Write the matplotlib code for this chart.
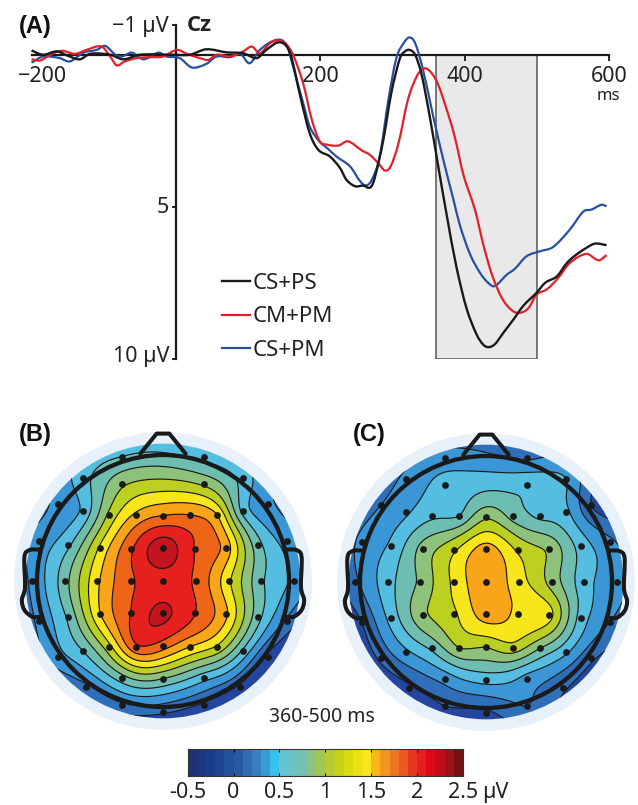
import numpy as np
import matplotlib
matplotlib.use("Agg")
import matplotlib.pyplot as plt
from matplotlib.colors import LinearSegmentedColormap
from matplotlib.patches import Circle, Rectangle, PathPatch
from matplotlib.path import Path
from matplotlib.transforms import ScaledTranslation

plt.rcParams['font.family'] = ['Noto Sans', 'DejaVu Sans']

W, H = 638, 805

# ERP at Cz, ms / uV
black_t = [-200,-184,-165,-149,-133,-119,-91,-73,-50,-4,19,42,70,93,112,125,144,158,172,185,197,213,227,236,248,259,269,275,287,298,310,317,323,331,340,352,363,375,388,402,416,425,432,441,453,467,481,499,511,527,541,552,568,580,596]
black_v = [-.16,-.02,-.13,.02,.13,-.05,-.02,.13,-.02,-.02,-.02,-.2,-.1,-.07,.09,-.18,-.43,-.07,1.35,2.56,3.11,3.33,3.71,4.1,4.31,4.29,4.35,4.04,2.78,1.24,.09,-.13,-.18,-.02,.64,2.12,3.66,5.3,6.95,8.32,9.19,9.52,9.61,9.52,9.14,8.7,8.24,7.82,7.49,7.28,6.84,6.6,6.34,6.2,6.25]
red_t = [-200,-188,-174,-158,-140,-124,-103,-91,-82,-71,-54,-36,-18,1,15,33,45,56,75,93,105,116,130,142,153,162,176,188,199,209,225,238,257,268,280,289,297,308,321,333,340,346,354,363,377,386,398,414,425,437,451,465,476,488,499,513,529,545,568,585,596]
red_v = [.13,.17,-.02,-.15,-.05,-.18,-.29,.04,.33,.2,.09,.06,.04,-.18,-.05,.09,.15,-.02,.04,-.13,-.29,-.07,-.4,-.49,-.35,-.02,.92,2.12,2.83,2.94,2.97,2.83,3.13,3.27,3.55,3.79,3.66,2.89,1.46,.7,.48,.43,.59,.97,1.96,2.7,3.95,5.1,6.2,7.2,7.99,8.4,8.48,8.32,7.88,7.71,7.33,6.84,6.54,6.75,6.58]
blue_t = [-200,-184,-161,-147,-128,-110,-98,-84,-75,-61,-45,-24,-13,5,22,42,56,75,89,102,116,139,153,162,176,185,199,209,222,241,255,263,271,282,294,305,315,323,331,342,356,370,384,393,407,421,432,441,458,469,485,504,522,545,564,575,589,596]
blue_v = [.24,.04,.09,.2,-.09,-.18,-.31,-.02,.04,-.09,.13,-.09,.04,.09,.4,.28,.04,.06,-.05,.26,-.18,-.51,-.35,.37,1.57,2.34,2.85,3.05,3.33,3.66,4.15,4.28,4.1,3.33,1.46,.09,-.4,-.59,-.4,.48,2.01,3.44,4.75,5.6,6.55,7.17,7.49,7.6,7.22,7.03,6.62,6.45,6.31,5.74,5.14,5.08,4.92,4.97]

# electrodes, head radius = 1, row by row from the front
elec_x = [-.325,.325, -.325,.327, -.638,.638, -.836,.836,
          -.638,-.429,-.214,0,.214,.429,.638, -.987,.987,
          -.751,-.497,-.257,0,.257,.497,.751,
          -1.04,-.78,-.521,-.257,0,.26,.521,.78,1.04,
          -.987,.987, -.751,-.497,-.257,0,.257,.497,.751,
          -.638,-.429,-.214,0,.214,.429,.638, -.836,.836,
          -.325,0,.327, -.608,.608, -.325,.325,0]
elec_y = [.987,.987, .77,.77, .815,.815, .608,.608,
          .558,.526,.524,.519,.524,.526,.558, .32,.32,
          .288,.265,.257,.262,.257,.265,.288,
          0,0,0,0,0,0,0,0,0,
          -.315,-.315, -.286,-.259,-.254,-.257,-.254,-.259,-.286,
          -.553,-.526,-.521,-.519,-.521,-.526,-.553, -.606,-.606,
          -.767,-.775,-.767, -.839,-.839, -.984,-.984,-1.037]

vals_b = [.5,.4, .95,.95, .4,.4, .05,.05,
          .3,1.05,1.55,1.75,1.75,1.5,.4, .1,.15,
          .45,1.3,1.95,2.4,1.98,1.65,.6,
          .05,.65,1.45,1.95,2.15,1.95,1.3,.55,.2,
          .05,-.05, .55,1.5,2.0,2.3,2.0,1.55,.6,
          .5,1.15,1.95,1.85,1.5,1.2,.45, .15,-.35,
          .65,.75,.35, -.05,-.3, -.05,-.3,-.2]
vals_c = [.1,-.05, .35,.45, .05,.25, 0,-.25,
          .2,.45,.5,.95,.65,.45,.3, .05,.05,
          .3,.85,1.2,1.6,1.2,.95,.4,
          -.05,.4,.8,1.3,1.65,1.35,.9,.35,.1,
          -.25,0, .35,.95,1.2,1.6,1.45,1.35,.4,
          .2,.55,1.0,1.0,1.15,.75,.3, -.2,-.2,
          .1,.35,.15, -.3,-.2, -.25,0,-.3]

levels = np.arange(-0.5, 2.51, 0.25)
cb_ticks = [-0.5, 0, 0.5, 1, 1.5, 2, 2.5]
cb_labels = ['-0.5', '0', '0.5', '1', '1.5', '2', '2.5']

anchors = [(-.5,'#1f3a90'),(-.375,'#24479f'),(-.125,'#2f6fba'),(.125,'#3b96d6'),(.375,'#55bfe0'),
           (.625,'#6dbdb2'),(.875,'#8ec27c'),(1.125,'#bcd020'),(1.375,'#f8e81c'),(1.625,'#f8a61a'),
           (1.875,'#ee6518'),(2.125,'#e6211f'),(2.375,'#c8141e'),(2.5,'#a01218')]
cmap = LinearSegmentedColormap.from_list('erp', [((v+.5)/3, c) for v, c in anchors])

bar_anchors = [(-.5,'#1d3070'),(-.25,'#1a3c8c'),(0,'#24559f'),(.25,'#3a7cc0'),(.45,'#35c0ef'),(.5,'#5ec4dc'),
               (.75,'#76c2b0'),(.9,'#98c46a'),(1.0,'#a9c83c'),(1.2,'#d3d60a'),(1.45,'#f9e91b'),(1.55,'#f9b41c'),
               (1.8,'#ec6a20'),(2.0,'#e62a20'),(2.15,'#e10a17'),(2.35,'#a01218'),(2.5,'#5e1010')]
bar_cmap = LinearSegmentedColormap.from_list('bar', [((v+.5)/3, c) for v, c in bar_anchors])


def add_ax(l, t, w, h):
    return fig.add_axes([l/W, 1-(t+h)/H, w/W, h/H])


def smooth_path(u, x, y):
    # bezier through the points, tangents from the neighbours
    u, x, y = np.array(u, float), np.array(x, float), np.array(y, float)
    mx = np.gradient(x, u, edge_order=1)
    my = np.gradient(y, u, edge_order=1)
    mx[1:-1] = (x[2:]-x[:-2])/(u[2:]-u[:-2])
    my[1:-1] = (y[2:]-y[:-2])/(u[2:]-u[:-2])
    verts = [(x[0], y[0])]
    codes = [Path.MOVETO]
    for i in range(len(u)-1):
        d = (u[i+1]-u[i])/3
        verts += [(x[i]+mx[i]*d, y[i]+my[i]*d), (x[i+1]-mx[i+1]*d, y[i+1]-my[i+1]*d), (x[i+1], y[i+1])]
        codes += [Path.CURVE4]*3
    return Path(verts, codes)


def curve(ax, t, v, color, lw, label, z):
    ax.add_patch(PathPatch(smooth_path(t, t, v), fc='none', ec=color, lw=lw, zorder=z, clip_on=False))
    ax.plot([], [], color=color, lw=lw, label=label)


def tps(x, y, v, gx, gy):
    # thin plate spline through the electrode values
    x, y, v = np.array(x), np.array(y), np.array(v)
    n = len(x)
    d = np.hypot(x[:,None]-x[None,:], y[:,None]-y[None,:])
    K = d**2*np.log(d+1e-9)
    P = np.column_stack([np.ones(n), x, y])
    A = np.block([[K, P], [P.T, np.zeros((3,3))]])
    coef = np.linalg.solve(A, np.r_[v, 0, 0, 0])
    dg = np.hypot(gx[...,None]-x, gy[...,None]-y)
    z = (dg**2*np.log(dg+1e-9)*coef[:n]).sum(-1)
    return z + coef[n] + coef[n+1]*gx + coef[n+2]*gy


def topo(cx, cy, vals):
    s = 126
    r = 1.25
    ax = add_ax(cx-r*s, cy-r*s, 2*r*s, 2*r*s)
    ax.set_xlim(-r, r)
    ax.set_ylim(-r, r)
    ax.axis('off')
    ax.add_patch(Circle((0,0), 1.182, fc='#e8f0fa', ec='none', zorder=0))
    g = np.linspace(-1.12, 1.12, 300)
    gx, gy = np.meshgrid(g, g)
    z = np.clip(tps(elec_x, elec_y, vals, gx, gy), -.49, 2.49)
    disc = Circle((0,0), 1.09, transform=ax.transData)
    cf = ax.contourf(gx, gy, z, levels=levels, cmap=cmap, vmin=-.5, vmax=2.5, zorder=1)
    cl = ax.contour(gx, gy, z, levels=levels[1:-1], colors='#1a1a1a', linewidths=.85, zorder=2,
                    negative_linestyles='solid')
    cf.set_clip_path(disc)
    cl.set_clip_path(disc)
    # head outline
    ax.add_patch(Circle((0,0), 1.0, fc='none', ec='#1a1a1a', lw=3.1, zorder=3))
    lw = dict(fc='none', ec='#1a1a1a', lw=2.9, joinstyle='round', capstyle='round', zorder=3)
    ax.plot([-.18,-.05,.05,.18], [1.01,1.17,1.17,1.01], color='#1a1a1a', lw=2.9,
            solid_joinstyle='round', solid_capstyle='round', zorder=3)
    ear_x = np.array([.985,1.06,1.10,1.095,1.12,1.10,1.04,.985])
    ear_y = [.25,.245,.19,-.05,-.15,-.23,-.283,-.285]
    for sign in (-1, 1):
        ax.add_patch(PathPatch(smooth_path(range(8), sign*ear_x, ear_y), **lw))
    ax.scatter(elec_x, elec_y, s=24, c='#1a1a1a', linewidths=0, zorder=4)


fig = plt.figure(figsize=(W/100, H/100), dpi=100)

# (A) waveforms
ax = add_ax(31.5, 25, 578, 334)
ax.set_xlim(-200, 600)
ax.set_ylim(10, -1)
ax.patch.set_visible(False)
ax.add_patch(Rectangle((360, 0), 140, 10, fc='#e9e9e9', ec='#555555', lw=1.1, zorder=1))
curve(ax, blue_t, blue_v, '#27509f', 1.6, 'CS+PM', 3)
curve(ax, red_t, red_v, '#e3202a', 1.6, 'CM+PM', 3)
curve(ax, black_t, black_v, '#1a1a1a', 1.7, 'CS+PS', 4)
for s in ('top', 'right'):
    ax.spines[s].set_visible(False)
ax.spines['left'].set_position(('data', 0))
ax.spines['bottom'].set_position(('data', 0))
ax.spines['left'].set_linewidth(1.6)
ax.spines['bottom'].set_linewidth(1.6)
ax.spines['left'].set_color('#1a1a1a')
ax.spines['bottom'].set_color('#1a1a1a')
ax.set_xticks([-200, 200, 400, 600], ['\u2212200', '200', '400', '600'], fontsize=15.5, color='#222222')
ax.set_yticks([-1, 5, 10], ['\u22121 \u00b5V', '5', '10 \u00b5V'], fontsize=15.5, color='#222222')
ax.tick_params(axis='x', length=4, width=1.2, pad=4)
ax.tick_params(axis='y', length=3, width=1.2, pad=2)
ax.xaxis.get_major_ticks()[0].tick1line.set_visible(False)
lab0 = ax.get_xticklabels()[0]
lab0.set_transform(lab0.get_transform()+ScaledTranslation(11/100, 0, fig.dpi_scale_trans))
for lab, up in zip(ax.get_yticklabels(), [1, 2, 5]):
    lab.set_transform(lab.get_transform()+ScaledTranslation(0, up/100, fig.dpi_scale_trans))
h, l = ax.get_legend_handles_labels()
ax.legend(h[::-1], l[::-1], loc='upper left', bbox_to_anchor=(190.5/578, 86/334), frameon=False, fontsize=16,
          handlelength=1.27, handletextpad=.1, labelspacing=.56, borderpad=0, borderaxespad=0, labelcolor='#222222')

fig.text(19/W, 1-33/H, '(A)', family='Liberation Sans', weight='bold', fontsize=17, color='#111111')
fig.text(187/W, 1-31/H, 'Cz', family='Open Sans', weight='bold', fontsize=16, color='#222222')
fig.text(608/W, 1-100/H, 'ms', ha='center', fontsize=12, color='#222222')

# (B) (C) maps
topo(163, 581, vals_b)
topo(486, 582, vals_c)
fig.text(19/W, 1-441/H, '(B)', family='Liberation Sans', weight='bold', fontsize=17, color='#111111')
fig.text(353/W, 1-441/H, '(C)', family='Liberation Sans', weight='bold', fontsize=17, color='#111111')
fig.text(322/W, 1-722/H, '360-500 ms', ha='center', fontsize=14, color='#222222')

# colour bar
cax = add_ax(187.7, 749, 275.3, 27)
edges = np.linspace(-.5, 2.5, 31)
cax.pcolormesh(edges, [0, 1], [(edges[:-1]+edges[1:])/2], cmap=bar_cmap, vmin=-.5, vmax=2.5)
cax.set_yticks([])
cax.set_xticks(cb_ticks, cb_labels, fontsize=15.5, color='#222222')
cax.tick_params(axis='x', direction='in', length=2.5, width=.8, pad=4.5, top=True)
for s in cax.spines.values():
    s.set_linewidth(.8)
    s.set_color('#333333')
fig.text(482/W, 1-798/H, '\u00b5V', fontsize=15.5, color='#222222')

fig.savefig('out.png', dpi=100)
